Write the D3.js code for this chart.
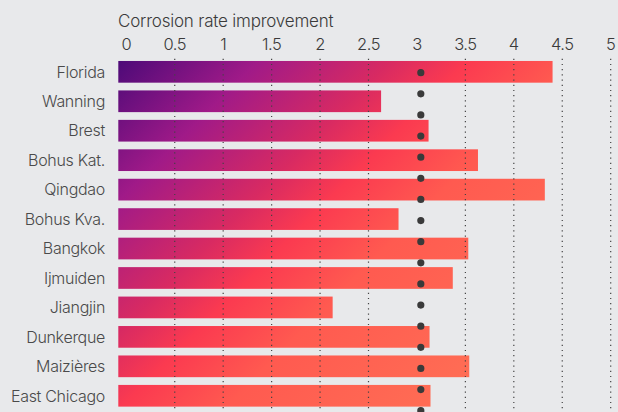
<!DOCTYPE html>
<html>
<head>
<meta charset="utf-8">
<script src="https://cdn.jsdelivr.net/npm/d3@7"></script>
<style>
  body { margin: 0; background: #e8e9eb; }
  text { font-family: "Inter", "Lato", sans-serif; }
</style>
</head>
<body>
<div id="chart"></div>
<script>
// data
var sites = ["Florida", "Wanning", "Brest", "Bohus Kat.", "Qingdao", "Bohus Kva.",
             "Bangkok", "Ijmuiden", "Jiangjin", "Dunkerque", "Maizières", "East Chicago"];
var improvement = [4.40, 2.63, 3.12, 3.63, 4.32, 2.81, 3.53, 3.37, 2.13, 3.13, 3.54, 3.14];
var tickValues = [0, 0.5, 1, 1.5, 2, 2.5, 3, 3.5, 4, 4.5, 5];
var tickLabels = ["0", "0.5", "1", "1.5", "2", "2.5", "3", "3.5", "4", "4.5", "5"];
var referenceValue = 3.04;

var width = 618, height = 412;

var svg = d3.select("#chart")
    .append("svg")
    .attr("width", width)
    .attr("height", height);

// gradient across the whole plot (diagonal)
var defs = svg.append("defs");
var grad = defs.append("linearGradient")
    .attr("id", "barGrad")
    .attr("gradientUnits", "userSpaceOnUse")
    .attr("x1", 118).attr("y1", 61)
    .attr("x2", 468).attr("y2", 411);
[[0, "#4d0a78"], [0.2, "#a01a88"], [0.39, "#d82a62"], [0.5, "#fb3a50"],
 [0.65, "#ff5a50"], [1, "#ff7055"]].forEach(function(s) {
    grad.append("stop").attr("offset", s[0]).attr("stop-color", s[1]);
});

// scales
var x = d3.scaleLinear()
    .domain([0, 5])
    .range([126.3, 610.7]);

var y = d3.scaleBand()
    .domain(sites)
    .range([57.1, 410.5])
    .paddingInner(0.263)
    .paddingOuter(0.1315);

var barLead = 8;

// title
svg.append("text")
    .attr("x", 118)
    .attr("y", 27)
    .attr("fill", "#3a3a3a")
    .style("font-size", "17px")
    .style("font-weight", 300)
    .style("letter-spacing", "-0.2px")
    .text("Corrosion rate improvement");

// tick labels
svg.append("g")
    .selectAll("text")
    .data(tickValues)
    .enter()
    .append("text")
    .attr("x", function(d) { return x(d); })
    .attr("y", 50)
    .attr("text-anchor", "middle")
    .attr("fill", "#3a3a3a")
    .style("font-size", "16.5px")
    .style("font-weight", 300)
    .style("letter-spacing", "-0.5px")
    .text(function(d, i) { return tickLabels[i]; });

// bars
svg.append("g")
    .selectAll("rect")
    .data(sites)
    .enter()
    .append("rect")
    .attr("x", x(0) - barLead)
    .attr("y", function(d) { return y(d); })
    .attr("width", function(d, i) { return x(improvement[i]) - x(0) + barLead; })
    .attr("height", y.bandwidth())
    .attr("fill", "url(#barGrad)");

// dotted gridlines (none at 0 and 3)
svg.append("g")
    .selectAll("line")
    .data(tickValues.filter(function(d) { return d !== 0 && d !== 3; }))
    .enter()
    .append("line")
    .attr("x1", function(d) { return x(d); })
    .attr("x2", function(d) { return x(d); })
    .attr("y1", 58.7)
    .attr("y2", height)
    .attr("stroke", "#444")
    .attr("stroke-width", 1.2)
    .attr("stroke-dasharray", "1.2 4");

// category labels
svg.append("g")
    .selectAll("text")
    .data(sites)
    .enter()
    .append("text")
    .attr("x", 105)
    .attr("y", function(d) { return y(d) + y.bandwidth() / 2; })
    .attr("dy", "0.36em")
    .attr("text-anchor", "end")
    .attr("fill", "#4a4a4a")
    .style("font-size", "16px")
    .style("font-weight", 300)
    .style("letter-spacing", "-0.3px")
    .text(function(d) { return d; });

// reference line of dots
svg.append("line")
    .attr("x1", x(referenceValue))
    .attr("x2", x(referenceValue))
    .attr("y1", 72.7)
    .attr("y2", height + 10)
    .attr("stroke", "#3a3a3a")
    .attr("stroke-width", 7.2)
    .attr("stroke-linecap", "round")
    .attr("stroke-dasharray", "0 21.125");
</script>
</body>
</html>
